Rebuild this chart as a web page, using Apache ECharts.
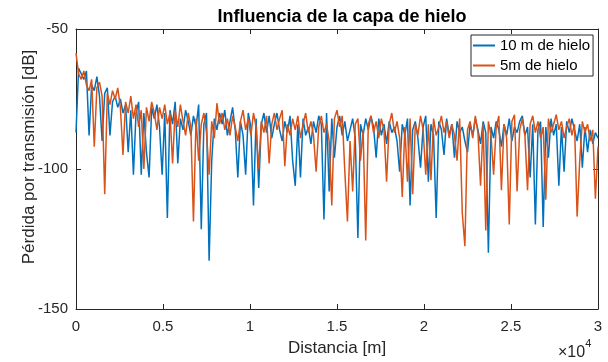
<!DOCTYPE html>
<html>
<head>
<meta charset="utf-8">
<script src="https://cdn.jsdelivr.net/npm/echarts@6/dist/echarts.min.js"></script>
<style>
  html, body { margin: 0; padding: 0; background: #fff; }
  #chart { width: 608px; height: 362px; }
</style>
</head>
<body>
<div id="chart"></div>
<script>
// sample spacing along the distance axis [m]
const pasoDistancia = 150;

const serieNombres = ['10 m de hielo', '5m de hielo'];

const xTicks = [0, 5000, 10000, 15000, 20000, 25000, 30000];
const yTicks = [-150, -100, -50];

// 10 m de hielo
const perdida10m = [
	-87, -64, -66, -68, -65, -88, -70, -72, -67, -74,
	-90, -73, -71, -88, -76, -74, -78, -75, -80, -77,
	-94, -79, -102, -80, -76, -102, -80, -94, -103, -78,
	-82, -77, -85, -102, -80, -117.5, -79, -84, -76, -98,
	-82, -86, -79, -83, -88, -81, -85, -77, -121.5, -84,
	-80, -132.8, -97, -82, -86, -80, -84, -79, -88, -83,
	-78, -86, -103, -83, -88, -102, -80, -85, -113, -82,
	-106.8, -84, -80, -87, -81, -89, -84, -80, -86, -90,
	-83, -87, -81, -97, -106, -84, -103, -82, -88, -85,
	-91, -83, -87, -81, -84, -118, -80, -108, -82, -96,
	-85, -81, -88, -83, -90, -86, -82, -89, -124.6, -84,
	-88, -82, -86, -81, -85, -96, -82, -88, -84, -91,
	-83, -87, -85, -90, -101, -84, -88, -82, -113, -86,
	-83, -89, -99.5, -85, -81, -104.5, -84, -88, -117.5, -83,
	-86, -95, -82, -88, -84, -96, -83, -87, -85, -90,
	-94, -84, -88, -82, -86, -91, -83, -87, -129.9, -85,
	-89, -83, -86, -92, -84, -88, -82, -90, -85, -87,
	-83, -81, -88, -85, -103, -84, -119.8, -86, -83, -120.7,
	-85, -96, -82, -88, -84, -106, -85, -101, -83, -87,
	-82, -86, -90, -84, -99.5, -85, -94, -86, -91, -87,
	-89
];

// 5m de hielo
const perdida5m = [
	-58.6, -66, -68, -65, -70, -72, -68, -92, -71, -69,
	-74, -109, -73, -77, -72, -75, -71, -78, -95, -76,
	-80, -74, -82, -77, -85, -79, -100, -78, -83, -76,
	-80, -86, -78, -82, -77, -84, -80, -98, -79, -85,
	-77, -83, -88, -80, -85, -118.7, -82, -97, -84, -80,
	-87, -102, -83, -89, -76.5, -84, -80, -86, -82, -88,
	-81, -85, -90, -83, -79, -86, -82, -88, -80, -85,
	-100, -83, -87, -81, -98, -84, -80, -86, -82, -79,
	-99, -84, -88, -82, -86, -81, -89, -84, -80, -87,
	-83, -88, -101, -85, -81, -87, -84, -90, -113, -82,
	-79, -85, -81, -101, -118.7, -90, -108, -84, -82, -97,
	-86, -125.5, -84, -81, -87, -83, -89, -82, -86, -104.5,
	-84, -80, -87, -83, -89, -110, -85, -104.5, -82, -109,
	-84, -88, -81, -86, -102, -84, -104, -82, -88, -85,
	-81, -87, -83, -89, -84, -88, -97, -82, -115.7, -127.6,
	-86, -83, -89, -81, -87, -106, -84, -122, -83, -88,
	-102, -85, -81, -107.6, -84, -89, -119.8, -83, -80.6, -108,
	-86, -82, -88, -107.6, -84, -81, -87, -83, -89, -85,
	-111, -82, -87, -84, -80.6, -86, -83, -89, -85, -82,
	-88, -84, -117, -97, -83, -87, -84, -90, -86, -110.6,
	-92
];

const texto = '#262626';
const colores = ['#0072BD', '#D95319'];

const toPairs = (vals) => vals.map((v, i) => [i * pasoDistancia, v]);

const chart = echarts.init(document.getElementById('chart'), null, { renderer: 'canvas' });

const baseX = {
	type: 'value',
	min: xTicks[0],
	max: xTicks[xTicks.length - 1],
	interval: xTicks[1] - xTicks[0],
	splitLine: { show: false },
	axisLine: { show: true, onZero: false, lineStyle: { color: texto, width: 1 } },
	axisTick: { show: true, inside: true, length: 5, lineStyle: { color: texto } },
};

const baseY = {
	type: 'value',
	min: yTicks[0],
	max: yTicks[yTicks.length - 1],
	interval: yTicks[1] - yTicks[0],
	splitLine: { show: false },
	axisLine: { show: true, onZero: false, lineStyle: { color: texto, width: 1 } },
	axisTick: { show: true, inside: true, length: 5, lineStyle: { color: texto } },
};

const option = {
	animation: false,
	backgroundColor: '#fff',
	title: {
		text: 'Influencia de la capa de hielo',
		left: 337,
		textAlign: 'center',
		top: 3,
		textStyle: { fontFamily: 'Liberation Sans', fontSize: 18, fontWeight: 'bold', color: '#000' },
	},
	grid: { left: 76, right: 10, top: 29, bottom: 50 },
	legend: {
		data: serieNombres,
		orient: 'vertical',
		left: 471,
		top: 35,
		padding: [2.5, 3, 2.5, 2],
		itemGap: 4,
		itemWidth: 22,
		itemHeight: 2,
		icon: 'rect',
		borderColor: texto,
		borderWidth: 1,
		borderRadius: 0,
		backgroundColor: '#fff',
		textStyle: { fontFamily: 'Liberation Sans', fontSize: 15, color: '#000', lineHeight: 16 },
	},
	xAxis: [
		{
			...baseX,
			position: 'bottom',
			name: 'Distancia [m]',
			nameLocation: 'middle',
			nameGap: 31,
			nameMoveOverlap: false,
			nameTextStyle: { fontFamily: 'Liberation Sans', fontSize: 17, color: texto },
			axisLabel: {
				margin: 10,
				fontFamily: 'Liberation Sans',
				fontSize: 15,
				color: texto,
				formatter: (v) => String(v / 10000),
			},
		},
		{ ...baseX, position: 'top', axisLabel: { show: false } },
	],
	yAxis: [
		{
			...baseY,
			position: 'left',
			name: 'Pérdida por transmisión [dB]',
			nameLocation: 'middle',
			nameGap: 38,
			nameMoveOverlap: false,
			nameTextStyle: { fontFamily: 'Liberation Sans', fontSize: 17, color: texto, padding: [0, 0, 0, 24] },
			axisLabel: { margin: 8, fontFamily: 'Liberation Sans', fontSize: 15, color: texto },
		},
		{ ...baseY, position: 'right', axisLabel: { show: false } },
	],
	graphic: [
		{
			type: 'text',
			left: 558,
			top: 338,
			style: {
				text: '{a|×10}{b|4}',
				rich: {
					a: { fontFamily: 'Liberation Sans', fontSize: 16, fill: texto, padding: [10, 0, 0, 0] },
					b: { fontFamily: 'Liberation Sans', fontSize: 11, fill: texto, padding: [0, 0, 9, 0] },
				},
			},
		},
	],
	series: [
		{
			name: serieNombres[0],
			type: 'line',
			data: toPairs(perdida10m),
			symbol: 'none',
			lineStyle: { color: colores[0], width: 1.5 },
			itemStyle: { color: colores[0] },
			z: 2,
		},
		{
			name: serieNombres[1],
			type: 'line',
			data: toPairs(perdida5m),
			symbol: 'none',
			lineStyle: { color: colores[1], width: 1.5 },
			itemStyle: { color: colores[1] },
			z: 3,
		},
	],
};

chart.setOption(option);
</script>
</body>
</html>
